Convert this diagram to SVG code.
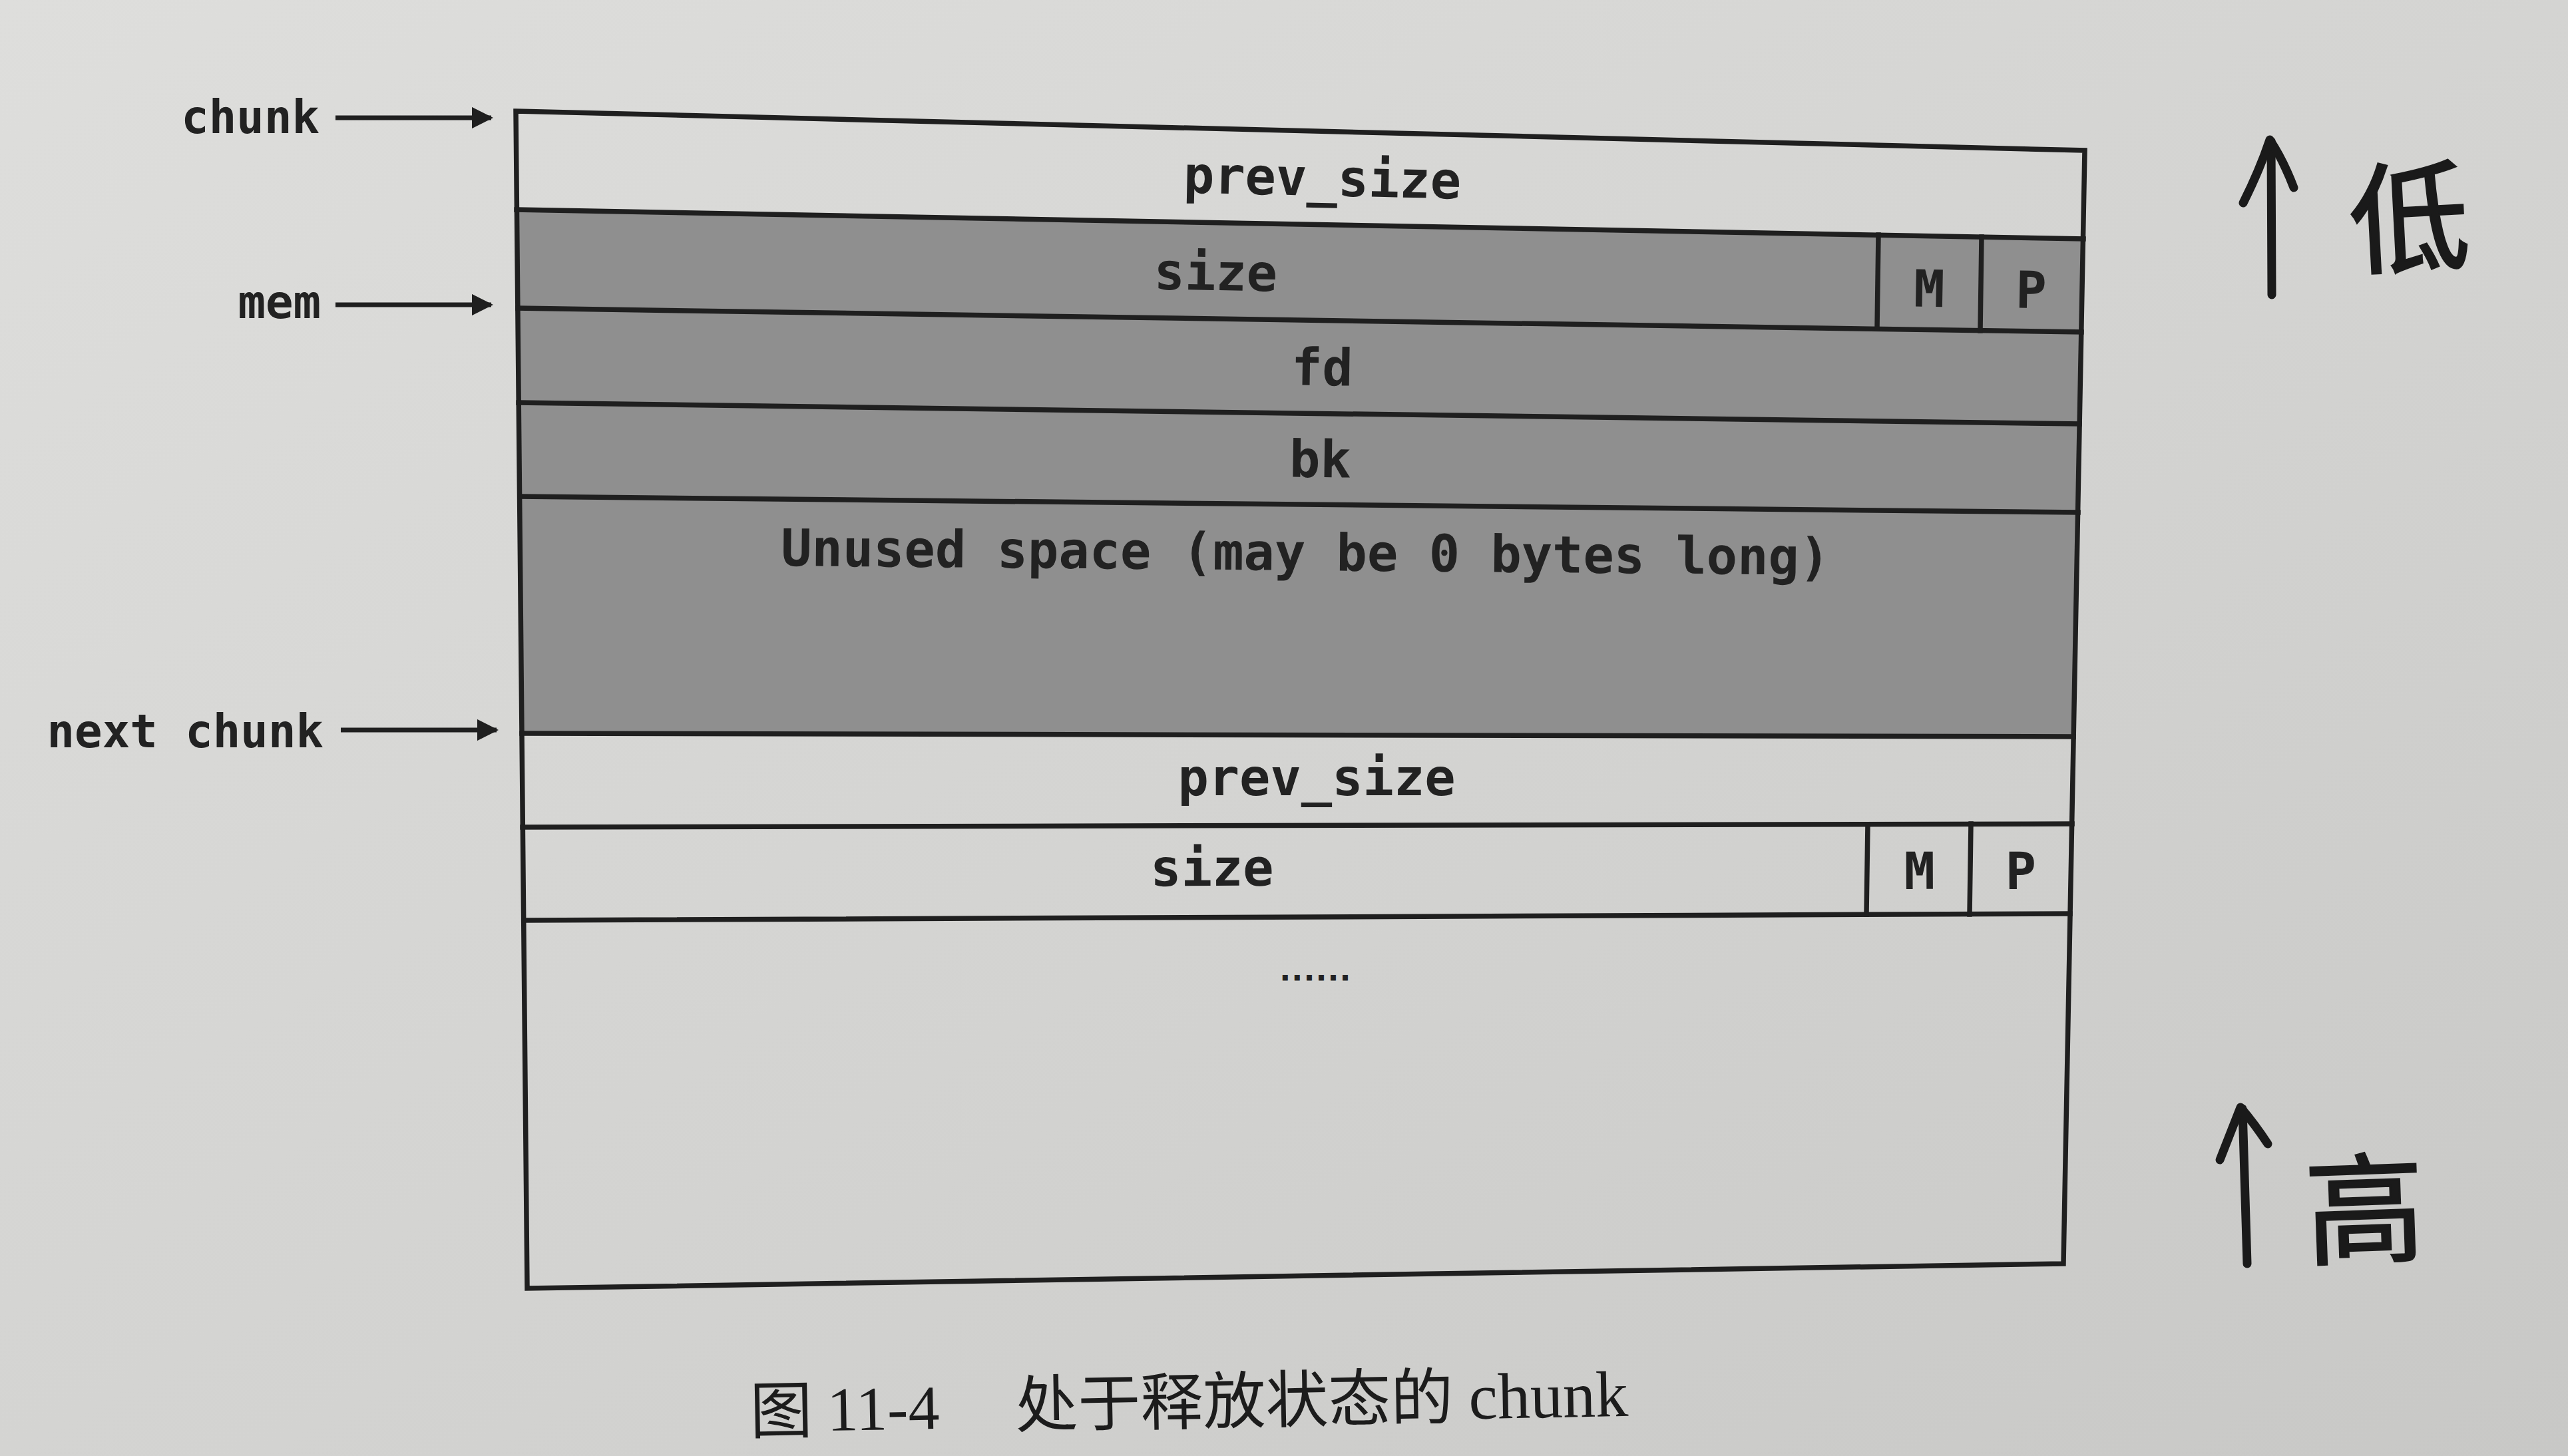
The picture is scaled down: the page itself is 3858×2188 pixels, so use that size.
<svg xmlns="http://www.w3.org/2000/svg" width="3858" height="2188" viewBox="0 0 3858 2188">
  <defs>
    <linearGradient id="paper" x1="0" y1="0" x2="1" y2="1">
      <stop offset="0" stop-color="#dededc"/>
      <stop offset="0.55" stop-color="#d3d3d1"/>
      <stop offset="1" stop-color="#c8c8c6"/>
    </linearGradient>
    <marker id="arrowhead" viewBox="0 0 10 10" refX="9" refY="5" markerWidth="4.6" markerHeight="4.6" orient="auto" markerUnits="strokeWidth">
      <path d="M0,0 L10,5 L0,10 z" fill="#1f1f1f"/>
    </marker>
    <style>
      .rule { stroke: #1f1f1f; stroke-width: 7.5; fill: none; stroke-linecap: square; }
      .field { font-family: "DejaVu Sans Mono", "Liberation Mono", monospace; font-weight: bold; font-size: 77px; fill: #222222; text-anchor: middle; }
      .label { font-family: "DejaVu Sans Mono", "Liberation Mono", monospace; font-weight: bold; font-size: 69px; fill: #222222; text-anchor: end; }
      .pointer { stroke: #1f1f1f; stroke-width: 7; fill: none; }
      .hand { stroke: #1a1a1a; stroke-width: 13; fill: none; stroke-linecap: round; stroke-linejoin: round; }
      .handtext { font-family: "Noto Sans CJK SC", sans-serif; font-weight: normal; font-size: 180px; fill: #1a1a1a; text-anchor: middle; stroke: #1a1a1a; stroke-width: 3; }
    </style>
  </defs>

  <!-- page -->
  <rect x="0" y="0" width="3858" height="2188" fill="url(#paper)"/>

  <!-- chunk layout table -->
  <g id="chunk-table">
    <!-- shaded fields of the free chunk: size, fd, bk, unused -->
    <polygon points="776,315 3130,359 3115,1107 784,1102" fill="#8f8f8f"/>
    <!-- outer border -->
    <polygon class="rule" stroke-linejoin="miter" points="775,167 3132,226 3100,1899 792,1936"/>
    <!-- row separators -->
    <line class="rule" x1="776" y1="315" x2="3130" y2="359"/>
    <line class="rule" x1="778" y1="463" x2="3127" y2="499"/>
    <line class="rule" x1="779" y1="605" x2="3124" y2="637"/>
    <line class="rule" x1="781" y1="746" x2="3122" y2="770"/>
    <line class="rule" x1="784" y1="1102" x2="3115" y2="1107"/>
    <line class="rule" x1="785" y1="1243" x2="3113" y2="1238"/>
    <line class="rule" x1="787" y1="1383" x2="3110" y2="1373"/>
    <!-- M / P bit cells -->
    <line class="rule" x1="2822" y1="353" x2="2820" y2="494"/>
    <line class="rule" x1="2977" y1="356" x2="2975" y2="497"/>
    <line class="rule" x1="2806" y1="1239" x2="2804" y2="1374"/>
    <line class="rule" x1="2961" y1="1238" x2="2959" y2="1374"/>
  </g>

  <g id="field-prev-size"><text class="field" x="1986" y="294" transform="rotate(1.25 1986 294)">prev_size</text></g>
  <g id="field-size">
    <text class="field" x="1826" y="436" transform="rotate(1.0 1826 436)">size</text>
    <text class="field" x="2898" y="461" transform="rotate(1.0 2898 461)">M</text>
    <text class="field" x="3051" y="463" transform="rotate(1.0 3051 463)">P</text>
  </g>
  <g id="field-fd"><text class="field" x="1986" y="579" transform="rotate(0.85 1986 579)">fd</text></g>
  <g id="field-bk"><text class="field" x="1983" y="717" transform="rotate(0.7 1983 717)">bk</text></g>
  <g id="field-unused"><text class="field" x="1961" y="857" transform="rotate(0.5 1961 857)">Unused space (may be 0 bytes long)</text></g>
  <g id="next-prev-size"><text class="field" x="1978" y="1195">prev_size</text></g>
  <g id="next-size">
    <text class="field" x="1821" y="1331" transform="rotate(-0.2 1821 1331)">size</text>
    <text class="field" x="2884" y="1336" transform="rotate(-0.2 2884 1336)">M</text>
    <text class="field" x="3036" y="1336" transform="rotate(-0.2 3036 1336)">P</text>
  </g>
  <g id="next-rest"><text class="field" x="1976" y="1472" style="font-size:30px;stroke:#222222;stroke-width:3">......</text></g>

  <!-- pointer labels -->
  <g id="label-chunk"><text class="label" x="480" y="200">chunk</text></g>
  <g id="label-mem"><text class="label" x="482" y="478">mem</text></g>
  <g id="label-next-chunk"><text class="label" x="486" y="1123">next chunk</text></g>

  <g id="connectors">
    <line class="pointer" x1="504" y1="177" x2="738" y2="177" marker-end="url(#arrowhead)"/>
    <line class="pointer" x1="504" y1="458" x2="738" y2="458" marker-end="url(#arrowhead)"/>
    <line class="pointer" x1="512" y1="1097" x2="746" y2="1097" marker-end="url(#arrowhead)"/>
  </g>

  <!-- address direction notes -->
  <g id="note-low">
    <path class="hand" d="M3413,443 L3412,212"/>
    <path class="hand" d="M3370,305 Q3395,255 3410,210 Q3430,240 3446,282"/>
    <text class="handtext" x="3623" y="394" transform="rotate(-3 3623 394)">低</text>
  </g>
  <g id="note-high">
    <path class="hand" d="M3376,1899 L3369,1666"/>
    <path class="hand" d="M3335,1743 Q3352,1700 3366,1664 Q3388,1690 3407,1719"/>
    <text class="handtext" x="3555" y="1884" transform="rotate(-2 3555 1884)">高</text>
  </g>

  <!-- figure caption -->
  <g id="caption" font-family="'Liberation Serif', 'Noto Sans CJK SC', serif" font-size="94" fill="#1c1c1c" transform="rotate(-1.05 1790 2140)">
    <text x="1127" y="2142">图</text>
    <text x="1243" y="2140">11-4</text>
    <text x="1526" y="2140">处于释放状态的</text>
    <text x="2207" y="2140" font-size="98">chunk</text>
  </g>
</svg>
